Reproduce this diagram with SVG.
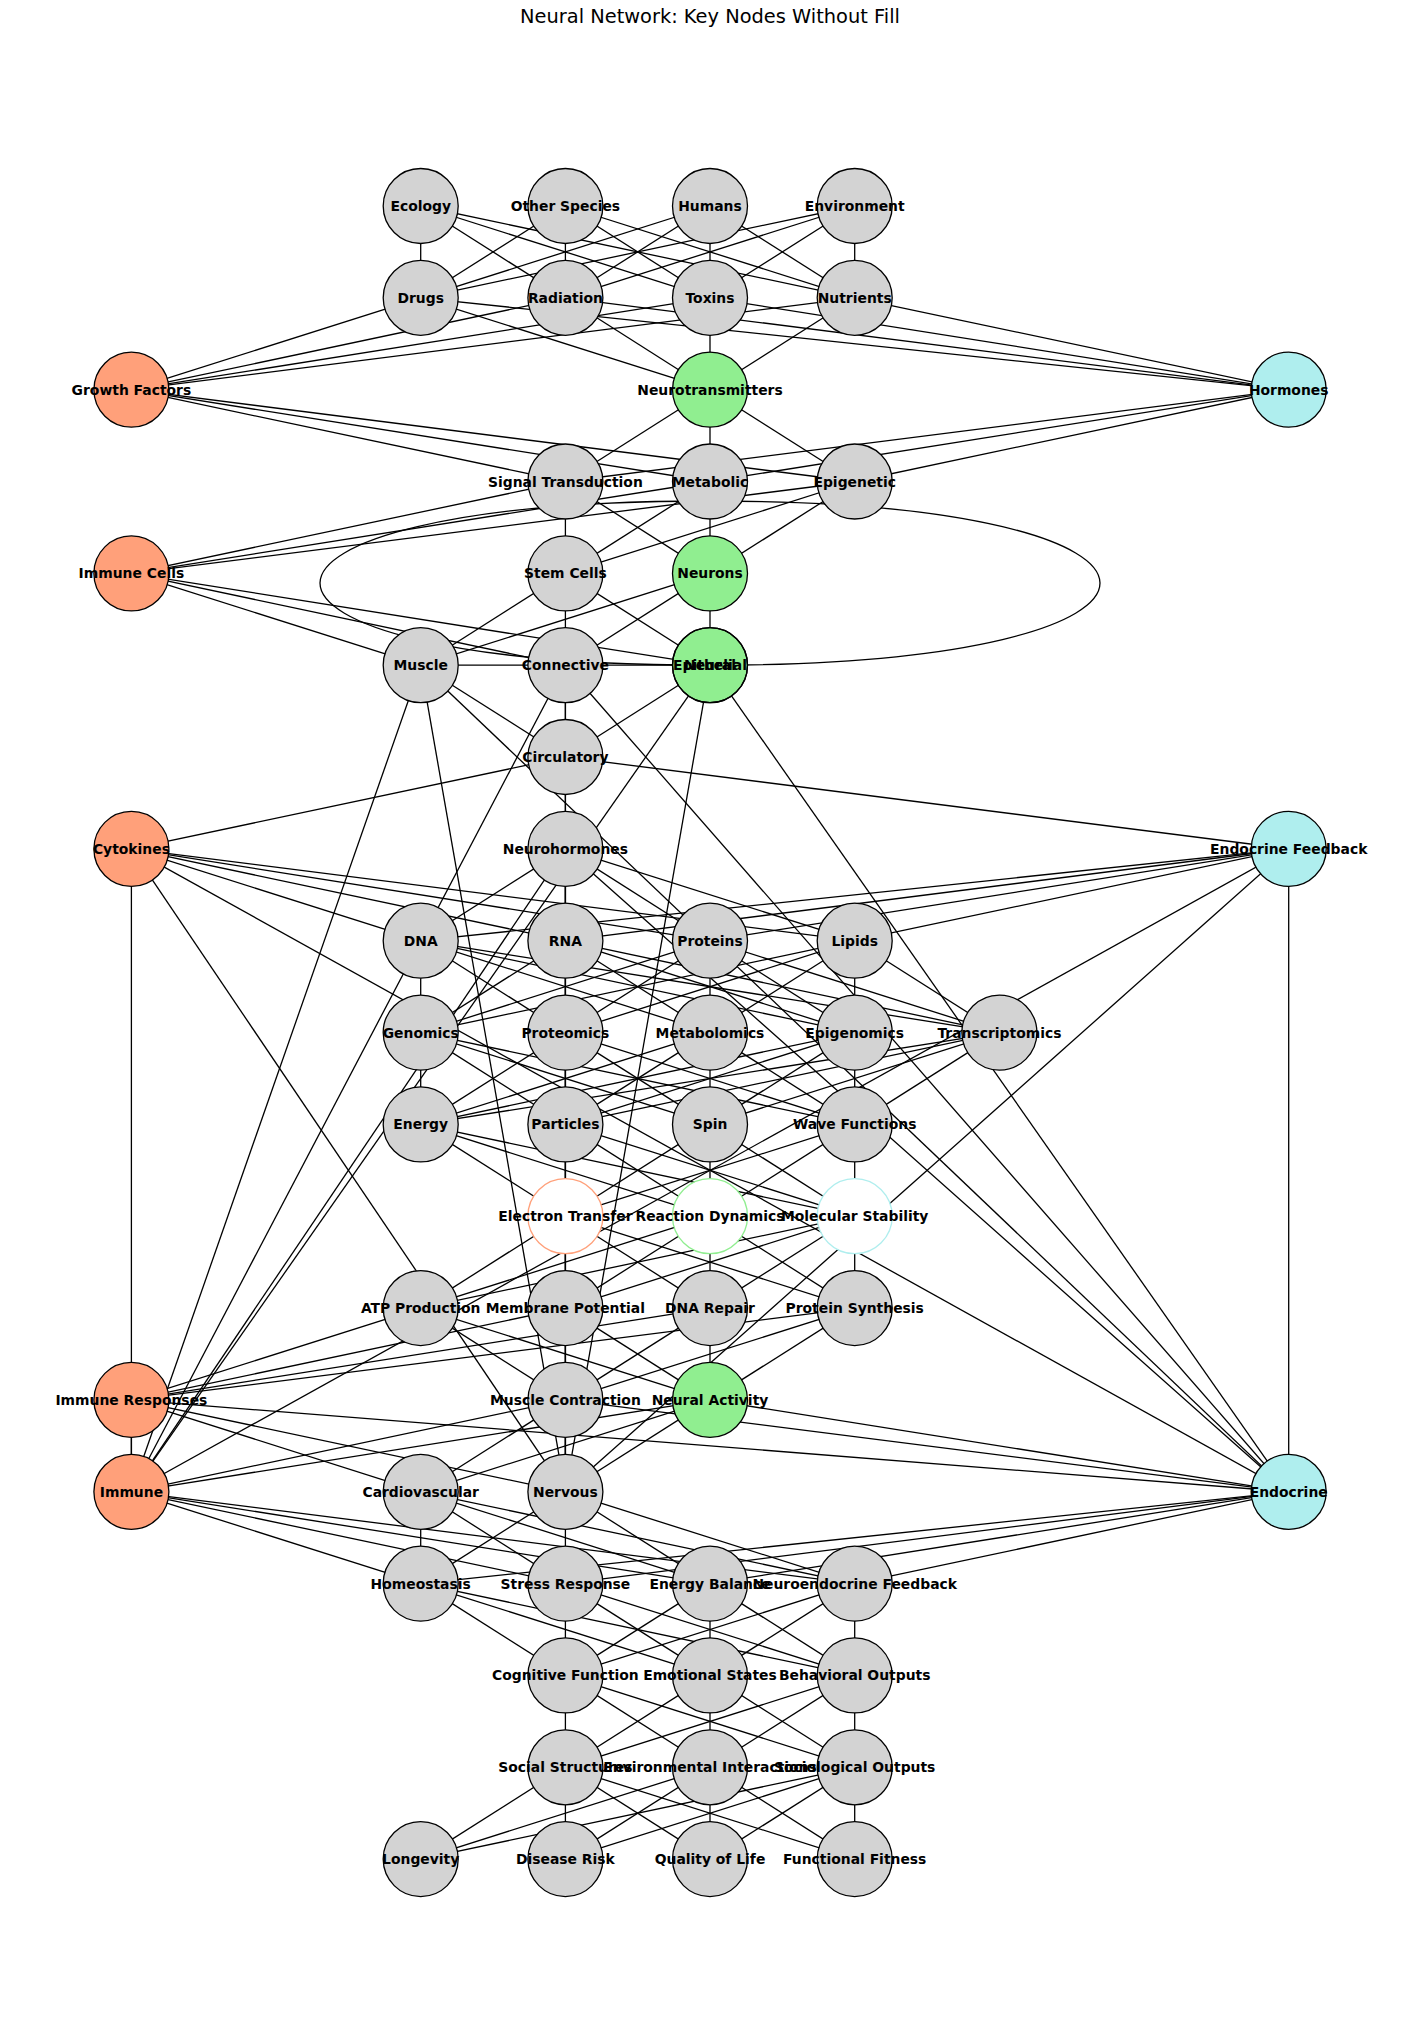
<svg xmlns="http://www.w3.org/2000/svg" width="1420" height="2043" viewBox="0 0 1420 2043">
<style>
.e line,.e path{stroke:#000;stroke-width:1.3;fill:none}
.nd{stroke:#000;stroke-width:1.3}
.g{fill:#d3d3d3}.o{fill:#ffa07a}.gr{fill:#90ee90}.c{fill:#afeeee}
.wo{fill:#fff;stroke:#ffa07a;stroke-width:1.3}.wg{fill:#fff;stroke:#90ee90;stroke-width:1.3}.wc{fill:#fff;stroke:#afeeee;stroke-width:1.3}
.lb{font-family:"DejaVu Sans",sans-serif;font-weight:bold;font-size:13.9px;text-anchor:middle;fill:#000}
.title{font-family:"DejaVu Sans",sans-serif;font-size:19.4px;text-anchor:middle;fill:#000}
</style>
<rect width="1420" height="2043" fill="#fff"/>
<text class="title" x="710" y="23">Neural Network: Key Nodes Without Fill</text>
<g id="edges" class="e">
<!-- L0-L1 -->
<line x1="420.7" y1="206" x2="420.7" y2="297.8"/><line x1="420.7" y1="206" x2="565.4" y2="297.8"/><line x1="420.7" y1="206" x2="710" y2="297.8"/><line x1="420.7" y1="206" x2="854.7" y2="297.8"/>
<line x1="565.4" y1="206" x2="420.7" y2="297.8"/><line x1="565.4" y1="206" x2="565.4" y2="297.8"/><line x1="565.4" y1="206" x2="710" y2="297.8"/><line x1="565.4" y1="206" x2="854.7" y2="297.8"/>
<line x1="710" y1="206" x2="420.7" y2="297.8"/><line x1="710" y1="206" x2="565.4" y2="297.8"/><line x1="710" y1="206" x2="710" y2="297.8"/><line x1="710" y1="206" x2="854.7" y2="297.8"/>
<line x1="854.7" y1="206" x2="420.7" y2="297.8"/><line x1="854.7" y1="206" x2="565.4" y2="297.8"/><line x1="854.7" y1="206" x2="710" y2="297.8"/><line x1="854.7" y1="206" x2="854.7" y2="297.8"/>
<!-- L1-L2 -->
<line x1="420.7" y1="297.8" x2="131.4" y2="389.7"/><line x1="420.7" y1="297.8" x2="710" y2="389.7"/><line x1="420.7" y1="297.8" x2="1288.7" y2="389.7"/>
<line x1="565.4" y1="297.8" x2="131.4" y2="389.7"/><line x1="565.4" y1="297.8" x2="710" y2="389.7"/><line x1="565.4" y1="297.8" x2="1288.7" y2="389.7"/>
<line x1="710" y1="297.8" x2="131.4" y2="389.7"/><line x1="710" y1="297.8" x2="710" y2="389.7"/><line x1="710" y1="297.8" x2="1288.7" y2="389.7"/>
<line x1="854.7" y1="297.8" x2="131.4" y2="389.7"/><line x1="854.7" y1="297.8" x2="710" y2="389.7"/><line x1="854.7" y1="297.8" x2="1288.7" y2="389.7"/>
<!-- L2-L3 -->
<line x1="131.4" y1="389.7" x2="565.4" y2="481.5"/><line x1="131.4" y1="389.7" x2="710" y2="481.5"/><line x1="131.4" y1="389.7" x2="854.7" y2="481.5"/>
<line x1="710" y1="389.7" x2="565.4" y2="481.5"/><line x1="710" y1="389.7" x2="710" y2="481.5"/><line x1="710" y1="389.7" x2="854.7" y2="481.5"/>
<line x1="1288.7" y1="389.7" x2="565.4" y2="481.5"/><line x1="1288.7" y1="389.7" x2="710" y2="481.5"/><line x1="1288.7" y1="389.7" x2="854.7" y2="481.5"/>
<!-- L3-L4 -->
<line x1="565.4" y1="481.5" x2="131.4" y2="573.4"/><line x1="565.4" y1="481.5" x2="565.4" y2="573.4"/><line x1="565.4" y1="481.5" x2="710" y2="573.4"/>
<line x1="710" y1="481.5" x2="131.4" y2="573.4"/><line x1="710" y1="481.5" x2="565.4" y2="573.4"/><line x1="710" y1="481.5" x2="710" y2="573.4"/>
<line x1="854.7" y1="481.5" x2="131.4" y2="573.4"/><line x1="854.7" y1="481.5" x2="565.4" y2="573.4"/><line x1="854.7" y1="481.5" x2="710" y2="573.4"/>
<!-- L4-L5 -->
<line x1="131.4" y1="573.4" x2="420.7" y2="665.2"/><line x1="131.4" y1="573.4" x2="565.4" y2="665.2"/><line x1="131.4" y1="573.4" x2="710" y2="665.2"/>
<line x1="565.4" y1="573.4" x2="420.7" y2="665.2"/><line x1="565.4" y1="573.4" x2="565.4" y2="665.2"/><line x1="565.4" y1="573.4" x2="710" y2="665.2"/>
<line x1="710" y1="573.4" x2="420.7" y2="665.2"/><line x1="710" y1="573.4" x2="565.4" y2="665.2"/><line x1="710" y1="573.4" x2="710" y2="665.2"/>
<!-- L5 internal + self loop -->
<line x1="420.7" y1="665.2" x2="710" y2="665.2"/>
<path d="M710,501 C1230,501 1230,665.2 710,665.2 C190,665.2 190,501 710,501"/>
<!-- L5-organ systems -->
<line x1="420.7" y1="665.2" x2="565.4" y2="757"/><line x1="420.7" y1="665.2" x2="565.4" y2="1491.8"/><line x1="420.7" y1="665.2" x2="131.4" y2="1491.8"/><line x1="420.7" y1="665.2" x2="1288.7" y2="1491.8"/>
<line x1="565.4" y1="665.2" x2="565.4" y2="757"/><line x1="565.4" y1="665.2" x2="565.4" y2="1491.8"/><line x1="565.4" y1="665.2" x2="131.4" y2="1491.8"/><line x1="565.4" y1="665.2" x2="1288.7" y2="1491.8"/>
<line x1="710" y1="665.2" x2="565.4" y2="757"/><line x1="710" y1="665.2" x2="565.4" y2="1491.8"/><line x1="710" y1="665.2" x2="131.4" y2="1491.8"/><line x1="710" y1="665.2" x2="1288.7" y2="1491.8"/>
<!-- organ systems - L7 -->
<line x1="565.4" y1="757" x2="131.4" y2="848.9"/><line x1="565.4" y1="757" x2="565.4" y2="848.9"/><line x1="565.4" y1="757" x2="1288.7" y2="848.9"/>
<line x1="565.4" y1="1491.8" x2="131.4" y2="848.9"/><line x1="565.4" y1="1491.8" x2="565.4" y2="848.9"/><line x1="565.4" y1="1491.8" x2="1288.7" y2="848.9"/>
<line x1="131.4" y1="1491.8" x2="131.4" y2="848.9"/><line x1="131.4" y1="1491.8" x2="565.4" y2="848.9"/><line x1="131.4" y1="1491.8" x2="1288.7" y2="848.9"/>
<line x1="1288.7" y1="1491.8" x2="131.4" y2="848.9"/><line x1="1288.7" y1="1491.8" x2="565.4" y2="848.9"/><line x1="1288.7" y1="1491.8" x2="1288.7" y2="848.9"/>
<!-- L7-L8 -->
<line x1="131.4" y1="848.9" x2="420.7" y2="940.7"/><line x1="131.4" y1="848.9" x2="565.4" y2="940.7"/><line x1="131.4" y1="848.9" x2="710" y2="940.7"/><line x1="131.4" y1="848.9" x2="854.7" y2="940.7"/>
<line x1="565.4" y1="848.9" x2="420.7" y2="940.7"/><line x1="565.4" y1="848.9" x2="565.4" y2="940.7"/><line x1="565.4" y1="848.9" x2="710" y2="940.7"/><line x1="565.4" y1="848.9" x2="854.7" y2="940.7"/>
<line x1="1288.7" y1="848.9" x2="420.7" y2="940.7"/><line x1="1288.7" y1="848.9" x2="565.4" y2="940.7"/><line x1="1288.7" y1="848.9" x2="710" y2="940.7"/><line x1="1288.7" y1="848.9" x2="854.7" y2="940.7"/>
<!-- L8-L9 -->
<line x1="420.7" y1="940.7" x2="420.7" y2="1032.6"/><line x1="420.7" y1="940.7" x2="565.4" y2="1032.6"/><line x1="420.7" y1="940.7" x2="710" y2="1032.6"/><line x1="420.7" y1="940.7" x2="854.7" y2="1032.6"/><line x1="420.7" y1="940.7" x2="999.4" y2="1032.6"/>
<line x1="565.4" y1="940.7" x2="420.7" y2="1032.6"/><line x1="565.4" y1="940.7" x2="565.4" y2="1032.6"/><line x1="565.4" y1="940.7" x2="710" y2="1032.6"/><line x1="565.4" y1="940.7" x2="854.7" y2="1032.6"/><line x1="565.4" y1="940.7" x2="999.4" y2="1032.6"/>
<line x1="710" y1="940.7" x2="420.7" y2="1032.6"/><line x1="710" y1="940.7" x2="565.4" y2="1032.6"/><line x1="710" y1="940.7" x2="710" y2="1032.6"/><line x1="710" y1="940.7" x2="854.7" y2="1032.6"/><line x1="710" y1="940.7" x2="999.4" y2="1032.6"/>
<line x1="854.7" y1="940.7" x2="420.7" y2="1032.6"/><line x1="854.7" y1="940.7" x2="565.4" y2="1032.6"/><line x1="854.7" y1="940.7" x2="710" y2="1032.6"/><line x1="854.7" y1="940.7" x2="854.7" y2="1032.6"/><line x1="854.7" y1="940.7" x2="999.4" y2="1032.6"/>
<!-- L9-L10 -->
<line x1="420.7" y1="1032.6" x2="420.7" y2="1124.4"/><line x1="420.7" y1="1032.6" x2="565.4" y2="1124.4"/><line x1="420.7" y1="1032.6" x2="710" y2="1124.4"/><line x1="420.7" y1="1032.6" x2="854.7" y2="1124.4"/>
<line x1="565.4" y1="1032.6" x2="420.7" y2="1124.4"/><line x1="565.4" y1="1032.6" x2="565.4" y2="1124.4"/><line x1="565.4" y1="1032.6" x2="710" y2="1124.4"/><line x1="565.4" y1="1032.6" x2="854.7" y2="1124.4"/>
<line x1="710" y1="1032.6" x2="420.7" y2="1124.4"/><line x1="710" y1="1032.6" x2="565.4" y2="1124.4"/><line x1="710" y1="1032.6" x2="710" y2="1124.4"/><line x1="710" y1="1032.6" x2="854.7" y2="1124.4"/>
<line x1="854.7" y1="1032.6" x2="420.7" y2="1124.4"/><line x1="854.7" y1="1032.6" x2="565.4" y2="1124.4"/><line x1="854.7" y1="1032.6" x2="710" y2="1124.4"/><line x1="854.7" y1="1032.6" x2="854.7" y2="1124.4"/>
<line x1="999.4" y1="1032.6" x2="420.7" y2="1124.4"/><line x1="999.4" y1="1032.6" x2="565.4" y2="1124.4"/><line x1="999.4" y1="1032.6" x2="710" y2="1124.4"/><line x1="999.4" y1="1032.6" x2="854.7" y2="1124.4"/>
<!-- L10-L11 -->
<line x1="420.7" y1="1124.4" x2="565.4" y2="1216.2"/><line x1="420.7" y1="1124.4" x2="710" y2="1216.2"/><line x1="420.7" y1="1124.4" x2="854.7" y2="1216.2"/>
<line x1="565.4" y1="1124.4" x2="565.4" y2="1216.2"/><line x1="565.4" y1="1124.4" x2="710" y2="1216.2"/><line x1="565.4" y1="1124.4" x2="854.7" y2="1216.2"/>
<line x1="710" y1="1124.4" x2="565.4" y2="1216.2"/><line x1="710" y1="1124.4" x2="710" y2="1216.2"/><line x1="710" y1="1124.4" x2="854.7" y2="1216.2"/>
<line x1="854.7" y1="1124.4" x2="565.4" y2="1216.2"/><line x1="854.7" y1="1124.4" x2="710" y2="1216.2"/><line x1="854.7" y1="1124.4" x2="854.7" y2="1216.2"/>
<!-- L11-L12 -->
<line x1="565.4" y1="1216.2" x2="420.7" y2="1308.1"/><line x1="565.4" y1="1216.2" x2="565.4" y2="1308.1"/><line x1="565.4" y1="1216.2" x2="710" y2="1308.1"/><line x1="565.4" y1="1216.2" x2="854.7" y2="1308.1"/>
<line x1="710" y1="1216.2" x2="420.7" y2="1308.1"/><line x1="710" y1="1216.2" x2="565.4" y2="1308.1"/><line x1="710" y1="1216.2" x2="710" y2="1308.1"/><line x1="710" y1="1216.2" x2="854.7" y2="1308.1"/>
<line x1="854.7" y1="1216.2" x2="420.7" y2="1308.1"/><line x1="854.7" y1="1216.2" x2="565.4" y2="1308.1"/><line x1="854.7" y1="1216.2" x2="710" y2="1308.1"/><line x1="854.7" y1="1216.2" x2="854.7" y2="1308.1"/>
<!-- L12-L13 -->
<line x1="420.7" y1="1308.1" x2="131.4" y2="1399.9"/><line x1="420.7" y1="1308.1" x2="565.4" y2="1399.9"/><line x1="420.7" y1="1308.1" x2="710" y2="1399.9"/>
<line x1="565.4" y1="1308.1" x2="131.4" y2="1399.9"/><line x1="565.4" y1="1308.1" x2="565.4" y2="1399.9"/><line x1="565.4" y1="1308.1" x2="710" y2="1399.9"/>
<line x1="710" y1="1308.1" x2="131.4" y2="1399.9"/><line x1="710" y1="1308.1" x2="565.4" y2="1399.9"/><line x1="710" y1="1308.1" x2="710" y2="1399.9"/>
<line x1="854.7" y1="1308.1" x2="131.4" y2="1399.9"/><line x1="854.7" y1="1308.1" x2="565.4" y2="1399.9"/><line x1="854.7" y1="1308.1" x2="710" y2="1399.9"/>
<!-- L13-L14 -->
<line x1="131.4" y1="1399.9" x2="131.4" y2="1491.8"/><line x1="131.4" y1="1399.9" x2="420.7" y2="1491.8"/><line x1="131.4" y1="1399.9" x2="565.4" y2="1491.8"/><line x1="131.4" y1="1399.9" x2="1288.7" y2="1491.8"/>
<line x1="565.4" y1="1399.9" x2="131.4" y2="1491.8"/><line x1="565.4" y1="1399.9" x2="420.7" y2="1491.8"/><line x1="565.4" y1="1399.9" x2="565.4" y2="1491.8"/><line x1="565.4" y1="1399.9" x2="1288.7" y2="1491.8"/>
<line x1="710" y1="1399.9" x2="131.4" y2="1491.8"/><line x1="710" y1="1399.9" x2="420.7" y2="1491.8"/><line x1="710" y1="1399.9" x2="565.4" y2="1491.8"/><line x1="710" y1="1399.9" x2="1288.7" y2="1491.8"/>
<!-- L14-L15 -->
<line x1="131.4" y1="1491.8" x2="420.7" y2="1583.6"/><line x1="131.4" y1="1491.8" x2="565.4" y2="1583.6"/><line x1="131.4" y1="1491.8" x2="710" y2="1583.6"/><line x1="131.4" y1="1491.8" x2="854.7" y2="1583.6"/>
<line x1="420.7" y1="1491.8" x2="420.7" y2="1583.6"/><line x1="420.7" y1="1491.8" x2="565.4" y2="1583.6"/><line x1="420.7" y1="1491.8" x2="710" y2="1583.6"/><line x1="420.7" y1="1491.8" x2="854.7" y2="1583.6"/>
<line x1="565.4" y1="1491.8" x2="420.7" y2="1583.6"/><line x1="565.4" y1="1491.8" x2="565.4" y2="1583.6"/><line x1="565.4" y1="1491.8" x2="710" y2="1583.6"/><line x1="565.4" y1="1491.8" x2="854.7" y2="1583.6"/>
<line x1="1288.7" y1="1491.8" x2="420.7" y2="1583.6"/><line x1="1288.7" y1="1491.8" x2="565.4" y2="1583.6"/><line x1="1288.7" y1="1491.8" x2="710" y2="1583.6"/><line x1="1288.7" y1="1491.8" x2="854.7" y2="1583.6"/>
<!-- L15-L16 -->
<line x1="420.7" y1="1583.6" x2="565.4" y2="1675.4"/><line x1="420.7" y1="1583.6" x2="710" y2="1675.4"/><line x1="420.7" y1="1583.6" x2="854.7" y2="1675.4"/>
<line x1="565.4" y1="1583.6" x2="565.4" y2="1675.4"/><line x1="565.4" y1="1583.6" x2="710" y2="1675.4"/><line x1="565.4" y1="1583.6" x2="854.7" y2="1675.4"/>
<line x1="710" y1="1583.6" x2="565.4" y2="1675.4"/><line x1="710" y1="1583.6" x2="710" y2="1675.4"/><line x1="710" y1="1583.6" x2="854.7" y2="1675.4"/>
<line x1="854.7" y1="1583.6" x2="565.4" y2="1675.4"/><line x1="854.7" y1="1583.6" x2="710" y2="1675.4"/><line x1="854.7" y1="1583.6" x2="854.7" y2="1675.4"/>
<!-- L16-L17 -->
<line x1="565.4" y1="1675.4" x2="565.4" y2="1767.3"/><line x1="565.4" y1="1675.4" x2="710" y2="1767.3"/><line x1="565.4" y1="1675.4" x2="854.7" y2="1767.3"/>
<line x1="710" y1="1675.4" x2="565.4" y2="1767.3"/><line x1="710" y1="1675.4" x2="710" y2="1767.3"/><line x1="710" y1="1675.4" x2="854.7" y2="1767.3"/>
<line x1="854.7" y1="1675.4" x2="565.4" y2="1767.3"/><line x1="854.7" y1="1675.4" x2="710" y2="1767.3"/><line x1="854.7" y1="1675.4" x2="854.7" y2="1767.3"/>
<!-- L17-L18 -->
<line x1="565.4" y1="1767.3" x2="420.7" y2="1859.1"/><line x1="565.4" y1="1767.3" x2="565.4" y2="1859.1"/><line x1="565.4" y1="1767.3" x2="710" y2="1859.1"/><line x1="565.4" y1="1767.3" x2="854.7" y2="1859.1"/>
<line x1="710" y1="1767.3" x2="420.7" y2="1859.1"/><line x1="710" y1="1767.3" x2="565.4" y2="1859.1"/><line x1="710" y1="1767.3" x2="710" y2="1859.1"/><line x1="710" y1="1767.3" x2="854.7" y2="1859.1"/>
<line x1="854.7" y1="1767.3" x2="420.7" y2="1859.1"/><line x1="854.7" y1="1767.3" x2="565.4" y2="1859.1"/><line x1="854.7" y1="1767.3" x2="710" y2="1859.1"/><line x1="854.7" y1="1767.3" x2="854.7" y2="1859.1"/>
</g>
<g id="nodes">
<g id="n-ecology"><circle class="nd g" cx="420.7" cy="206" r="37.5"/><text class="lb" x="420.7" y="211">Ecology</text></g>
<g id="n-other-species"><circle class="nd g" cx="565.4" cy="206" r="37.5"/><text class="lb" x="565.4" y="211">Other Species</text></g>
<g id="n-humans"><circle class="nd g" cx="710" cy="206" r="37.5"/><text class="lb" x="710" y="211">Humans</text></g>
<g id="n-environment"><circle class="nd g" cx="854.7" cy="206" r="37.5"/><text class="lb" x="854.7" y="211">Environment</text></g>
<g id="n-drugs"><circle class="nd g" cx="420.7" cy="297.8" r="37.5"/><text class="lb" x="420.7" y="302.8">Drugs</text></g>
<g id="n-radiation"><circle class="nd g" cx="565.4" cy="297.8" r="37.5"/><text class="lb" x="565.4" y="302.8">Radiation</text></g>
<g id="n-toxins"><circle class="nd g" cx="710" cy="297.8" r="37.5"/><text class="lb" x="710" y="302.8">Toxins</text></g>
<g id="n-nutrients"><circle class="nd g" cx="854.7" cy="297.8" r="37.5"/><text class="lb" x="854.7" y="302.8">Nutrients</text></g>
<g id="n-growth-factors"><circle class="nd o" cx="131.4" cy="389.7" r="37.5"/><text class="lb" x="131.4" y="394.7">Growth Factors</text></g>
<g id="n-neurotransmitters"><circle class="nd gr" cx="710" cy="389.7" r="37.5"/><text class="lb" x="710" y="394.7">Neurotransmitters</text></g>
<g id="n-hormones"><circle class="nd c" cx="1288.7" cy="389.7" r="37.5"/><text class="lb" x="1288.7" y="394.7">Hormones</text></g>
<g id="n-signal-transduction"><circle class="nd g" cx="565.4" cy="481.5" r="37.5"/><text class="lb" x="565.4" y="486.5">Signal Transduction</text></g>
<g id="n-metabolic"><circle class="nd g" cx="710" cy="481.5" r="37.5"/><text class="lb" x="710" y="486.5">Metabolic</text></g>
<g id="n-epigenetic"><circle class="nd g" cx="854.7" cy="481.5" r="37.5"/><text class="lb" x="854.7" y="486.5">Epigenetic</text></g>
<g id="n-immune-cells"><circle class="nd o" cx="131.4" cy="573.4" r="37.5"/><text class="lb" x="131.4" y="578.4">Immune Cells</text></g>
<g id="n-stem-cells"><circle class="nd g" cx="565.4" cy="573.4" r="37.5"/><text class="lb" x="565.4" y="578.4">Stem Cells</text></g>
<g id="n-neurons"><circle class="nd gr" cx="710" cy="573.4" r="37.5"/><text class="lb" x="710" y="578.4">Neurons</text></g>
<g id="n-muscle"><circle class="nd g" cx="420.7" cy="665.2" r="37.5"/><text class="lb" x="420.7" y="670.2">Muscle</text></g>
<g id="n-connective"><circle class="nd g" cx="565.4" cy="665.2" r="37.5"/><text class="lb" x="565.4" y="670.2">Connective</text></g>
<g id="n-neural"><circle class="nd gr" cx="710" cy="665.2" r="37.5"/><text class="lb" x="710" y="670.2">Neural</text></g>
<g id="n-epithelial"><circle class="nd" fill="none" cx="710" cy="665.2" r="37.5"/><text class="lb" x="710" y="670.2">Epithelial</text></g>
<g id="n-circulatory"><circle class="nd g" cx="565.4" cy="757" r="37.5"/><text class="lb" x="565.4" y="762">Circulatory</text></g>
<g id="n-cytokines"><circle class="nd o" cx="131.4" cy="848.9" r="37.5"/><text class="lb" x="131.4" y="853.9">Cytokines</text></g>
<g id="n-neurohormones"><circle class="nd g" cx="565.4" cy="848.9" r="37.5"/><text class="lb" x="565.4" y="853.9">Neurohormones</text></g>
<g id="n-endocrine-feedback"><circle class="nd c" cx="1288.7" cy="848.9" r="37.5"/><text class="lb" x="1288.7" y="853.9">Endocrine Feedback</text></g>
<g id="n-dna"><circle class="nd g" cx="420.7" cy="940.7" r="37.5"/><text class="lb" x="420.7" y="945.7">DNA</text></g>
<g id="n-rna"><circle class="nd g" cx="565.4" cy="940.7" r="37.5"/><text class="lb" x="565.4" y="945.7">RNA</text></g>
<g id="n-proteins"><circle class="nd g" cx="710" cy="940.7" r="37.5"/><text class="lb" x="710" y="945.7">Proteins</text></g>
<g id="n-lipids"><circle class="nd g" cx="854.7" cy="940.7" r="37.5"/><text class="lb" x="854.7" y="945.7">Lipids</text></g>
<g id="n-genomics"><circle class="nd g" cx="420.7" cy="1032.6" r="37.5"/><text class="lb" x="420.7" y="1037.6">Genomics</text></g>
<g id="n-proteomics"><circle class="nd g" cx="565.4" cy="1032.6" r="37.5"/><text class="lb" x="565.4" y="1037.6">Proteomics</text></g>
<g id="n-metabolomics"><circle class="nd g" cx="710" cy="1032.6" r="37.5"/><text class="lb" x="710" y="1037.6">Metabolomics</text></g>
<g id="n-epigenomics"><circle class="nd g" cx="854.7" cy="1032.6" r="37.5"/><text class="lb" x="854.7" y="1037.6">Epigenomics</text></g>
<g id="n-transcriptomics"><circle class="nd g" cx="999.4" cy="1032.6" r="37.5"/><text class="lb" x="999.4" y="1037.6">Transcriptomics</text></g>
<g id="n-energy"><circle class="nd g" cx="420.7" cy="1124.4" r="37.5"/><text class="lb" x="420.7" y="1129.4">Energy</text></g>
<g id="n-particles"><circle class="nd g" cx="565.4" cy="1124.4" r="37.5"/><text class="lb" x="565.4" y="1129.4">Particles</text></g>
<g id="n-spin"><circle class="nd g" cx="710" cy="1124.4" r="37.5"/><text class="lb" x="710" y="1129.4">Spin</text></g>
<g id="n-wave-functions"><circle class="nd g" cx="854.7" cy="1124.4" r="37.5"/><text class="lb" x="854.7" y="1129.4">Wave Functions</text></g>
<g id="n-electron-transfer"><circle class="wo" cx="565.4" cy="1216.2" r="37.5"/><text class="lb" x="565.4" y="1221.2">Electron Transfer</text></g>
<g id="n-reaction-dynamics"><circle class="wg" cx="710" cy="1216.2" r="37.5"/><text class="lb" x="710" y="1221.2">Reaction Dynamics</text></g>
<g id="n-molecular-stability"><circle class="wc" cx="854.7" cy="1216.2" r="37.5"/><text class="lb" x="854.7" y="1221.2">Molecular Stability</text></g>
<g id="n-atp-production"><circle class="nd g" cx="420.7" cy="1308.1" r="37.5"/><text class="lb" x="420.7" y="1313.1">ATP Production</text></g>
<g id="n-membrane-potential"><circle class="nd g" cx="565.4" cy="1308.1" r="37.5"/><text class="lb" x="565.4" y="1313.1">Membrane Potential</text></g>
<g id="n-dna-repair"><circle class="nd g" cx="710" cy="1308.1" r="37.5"/><text class="lb" x="710" y="1313.1">DNA Repair</text></g>
<g id="n-protein-synthesis"><circle class="nd g" cx="854.7" cy="1308.1" r="37.5"/><text class="lb" x="854.7" y="1313.1">Protein Synthesis</text></g>
<g id="n-immune-responses"><circle class="nd o" cx="131.4" cy="1399.9" r="37.5"/><text class="lb" x="131.4" y="1404.9">Immune Responses</text></g>
<g id="n-muscle-contraction"><circle class="nd g" cx="565.4" cy="1399.9" r="37.5"/><text class="lb" x="565.4" y="1404.9">Muscle Contraction</text></g>
<g id="n-neural-activity"><circle class="nd gr" cx="710" cy="1399.9" r="37.5"/><text class="lb" x="710" y="1404.9">Neural Activity</text></g>
<g id="n-immune"><circle class="nd o" cx="131.4" cy="1491.8" r="37.5"/><text class="lb" x="131.4" y="1496.8">Immune</text></g>
<g id="n-cardiovascular"><circle class="nd g" cx="420.7" cy="1491.8" r="37.5"/><text class="lb" x="420.7" y="1496.8">Cardiovascular</text></g>
<g id="n-nervous"><circle class="nd g" cx="565.4" cy="1491.8" r="37.5"/><text class="lb" x="565.4" y="1496.8">Nervous</text></g>
<g id="n-endocrine"><circle class="nd c" cx="1288.7" cy="1491.8" r="37.5"/><text class="lb" x="1288.7" y="1496.8">Endocrine</text></g>
<g id="n-homeostasis"><circle class="nd g" cx="420.7" cy="1583.6" r="37.5"/><text class="lb" x="420.7" y="1588.6">Homeostasis</text></g>
<g id="n-stress-response"><circle class="nd g" cx="565.4" cy="1583.6" r="37.5"/><text class="lb" x="565.4" y="1588.6">Stress Response</text></g>
<g id="n-energy-balance"><circle class="nd g" cx="710" cy="1583.6" r="37.5"/><text class="lb" x="710" y="1588.6">Energy Balance</text></g>
<g id="n-neuroendocrine-feedback"><circle class="nd g" cx="854.7" cy="1583.6" r="37.5"/><text class="lb" x="854.7" y="1588.6">Neuroendocrine Feedback</text></g>
<g id="n-cognitive-function"><circle class="nd g" cx="565.4" cy="1675.4" r="37.5"/><text class="lb" x="565.4" y="1680.4">Cognitive Function</text></g>
<g id="n-emotional-states"><circle class="nd g" cx="710" cy="1675.4" r="37.5"/><text class="lb" x="710" y="1680.4">Emotional States</text></g>
<g id="n-behavioral-outputs"><circle class="nd g" cx="854.7" cy="1675.4" r="37.5"/><text class="lb" x="854.7" y="1680.4">Behavioral Outputs</text></g>
<g id="n-social-structures"><circle class="nd g" cx="565.4" cy="1767.3" r="37.5"/><text class="lb" x="565.4" y="1772.3">Social Structures</text></g>
<g id="n-sociological-outputs"><circle class="nd g" cx="854.7" cy="1767.3" r="37.5"/><text class="lb" x="854.7" y="1772.3">Sociological Outputs</text></g>
<g id="n-environmental-interactions"><circle class="nd g" cx="710" cy="1767.3" r="37.5"/><text class="lb" x="710" y="1772.3">Environmental Interactions</text></g>
<g id="n-longevity"><circle class="nd g" cx="420.7" cy="1859.1" r="37.5"/><text class="lb" x="420.7" y="1864.1">Longevity</text></g>
<g id="n-disease-risk"><circle class="nd g" cx="565.4" cy="1859.1" r="37.5"/><text class="lb" x="565.4" y="1864.1">Disease Risk</text></g>
<g id="n-quality-of-life"><circle class="nd g" cx="710" cy="1859.1" r="37.5"/><text class="lb" x="710" y="1864.1">Quality of Life</text></g>
<g id="n-functional-fitness"><circle class="nd g" cx="854.7" cy="1859.1" r="37.5"/><text class="lb" x="854.7" y="1864.1">Functional Fitness</text></g>
</g>
</svg>
